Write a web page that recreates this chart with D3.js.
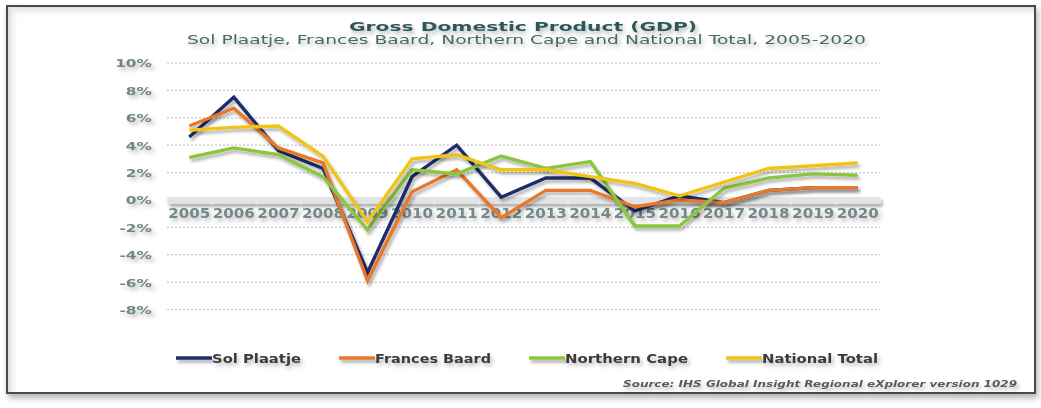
<!DOCTYPE html>
<html>
<head>
<meta charset="utf-8">
<script src="https://cdn.jsdelivr.net/npm/d3@7"></script>
<style>
  html, body { margin: 0; padding: 0; background: #fff; }
  svg { display: block; font-family: "DejaVu Sans", Verdana, sans-serif; }
</style>
</head>
<body>
<svg id="chart"></svg>
<script>
// GDP growth, %
var years = ["2005","2006","2007","2008","2009","2010","2011","2012","2013","2014","2015","2016","2017","2018","2019","2020"];
var solPlaatje    = [4.6, 7.5, 3.6, 2.3, -5.3, 1.7, 4.0, 0.2, 1.6, 1.6, -0.8, 0.3, -0.2, 0.7, 0.9, 0.9];
var francesBaard  = [5.4, 6.7, 3.8, 2.7, -5.9, 0.6, 2.2, -1.3, 0.7, 0.7, -0.5, 0.0, -0.2, 0.7, 0.9, 0.9];
var northernCape  = [3.1, 3.8, 3.3, 1.7, -2.2, 2.2, 1.9, 3.2, 2.3, 2.8, -1.9, -1.9, 0.85, 1.6, 1.9, 1.8];
var nationalTotal = [5.1, 5.3, 5.4, 3.2, -1.6, 3.0, 3.3, 2.2, 2.2, 1.7, 1.2, 0.3, 1.3, 2.3, 2.5, 2.7];
var seriesNames  = ["Sol Plaatje","Frances Baard","Northern Cape","National Total"];
var seriesColors = ["#1f2d6b","#e8782c","#8cc63f","#f2c318"];
var yTicks = [-8,-6,-4,-2,0,2,4,6,8,10];

var W = 1041, H = 408;
var plotLeft = 167, plotRight = 880, plotTop = 63, plotBottom = 309.5;

var svg = d3.select("#chart").attr("width", W).attr("height", H);
var defs = svg.append("defs");

// blurred drop shadows, like the picture (user space so flat lines keep them)
function shadow(id, dx, dy, sd, op){
  defs.append("filter").attr("id", id).attr("filterUnits","userSpaceOnUse")
    .attr("x",-100).attr("y",-400).attr("width",1300).attr("height",1000)
    .append("feDropShadow").attr("dx",dx).attr("dy",dy).attr("stdDeviation",sd)
    .attr("flood-color","#000").attr("flood-opacity",op);
}
shadow("shadow", 2, 3, 1.8, 0.3);
shadow("tshadow", 2, 3, 2, 0.28);
shadow("fshadow", 2, 4, 3, 0.3);

var gTop = defs.append("linearGradient").attr("id","gTop").attr("x1",0).attr("y1",0).attr("x2",0).attr("y2",1);
gTop.append("stop").attr("offset","0%").attr("stop-color","#dcdcdc");
gTop.append("stop").attr("offset","100%").attr("stop-color","#fff").attr("stop-opacity",0);
var gLeft = defs.append("linearGradient").attr("id","gLeft").attr("x1",0).attr("y1",0).attr("x2",1).attr("y2",0);
gLeft.append("stop").attr("offset","0%").attr("stop-color","#dcdcdc");
gLeft.append("stop").attr("offset","100%").attr("stop-color","#fff").attr("stop-opacity",0);

// frame
svg.append("rect").attr("x",7).attr("y",6).attr("width",1028).attr("height",387)
  .attr("fill","#fff").attr("stroke","#4a4a4a").attr("stroke-width",2).attr("filter","url(#fshadow)");
svg.append("rect").attr("x",8).attr("y",7).attr("width",1026).attr("height",12).attr("fill","url(#gTop)");
svg.append("rect").attr("x",8).attr("y",7).attr("width",12).attr("height",385).attr("fill","url(#gLeft)");

var x = d3.scaleBand().domain(years).range([plotLeft, plotRight]);
var y = d3.scaleLinear().domain([-8, 10]).range([plotBottom, plotTop]);
function cx(d){ return x(d) + x.bandwidth()/2; }

// titles
svg.append("text").attr("x",523).attr("y",31).attr("text-anchor","middle")
  .attr("font-size",12.5).attr("font-weight","bold").attr("fill","#2e5858")
  .attr("textLength",348).attr("lengthAdjust","spacingAndGlyphs").attr("filter","url(#tshadow)")
  .text("Gross Domestic Product (GDP)");
svg.append("text").attr("x",526.5).attr("y",44).attr("text-anchor","middle")
  .attr("font-size",12.5).attr("fill","#4a6868")
  .attr("textLength",679).attr("lengthAdjust","spacingAndGlyphs").attr("filter","url(#tshadow)")
  .text("Sol Plaatje, Frances Baard, Northern Cape and National Total, 2005-2020");

// grid
svg.append("g").selectAll("line").data(yTicks.filter(function(d){ return d !== 0; })).enter()
  .append("line")
  .attr("x1",plotLeft).attr("x2",plotRight)
  .attr("y1",function(d){ return y(d); }).attr("y2",function(d){ return y(d); })
  .attr("stroke","#c4c4c4").attr("stroke-width",1.2).attr("stroke-dasharray","2,2");

// y axis
var yAxis = svg.append("g").attr("transform","translate(152,0)")
  .call(d3.axisLeft(y).tickValues(yTicks).tickSize(0).tickFormat(function(d){ return d + "%"; }));
yAxis.select(".domain").remove();
yAxis.selectAll("text")
  .attr("x",0).attr("dy","0.36em")
  .attr("transform","scale(1.4,1)")
  .attr("font-size",11).attr("font-weight","bold").attr("font-family","DejaVu Sans")
  .attr("fill","#6d8686").attr("filter","url(#tshadow)");

// x axis band at 0%
var xAxis = svg.append("g").attr("transform","translate(0," + y(0) + ")")
  .call(d3.axisBottom(x).tickSize(0));
xAxis.select(".domain").attr("stroke","#e2e4e4").attr("stroke-width",7).attr("filter","url(#shadow)");
xAxis.selectAll(".tick line").remove();
xAxis.selectAll(".tick").append("line")
  .attr("x1",-x.bandwidth()/2).attr("x2",-x.bandwidth()/2).attr("y1",-5).attr("y2",5)
  .attr("stroke","#eceeee").attr("stroke-width",1);
xAxis.selectAll("text")
  .attr("y",18).attr("dy",0)
  .attr("transform","scale(1.12,1)")
  .attr("font-size",13.5).attr("font-weight","bold").attr("font-family","DejaVu Sans")
  .attr("fill","#738989").attr("filter","url(#tshadow)");

// lines
var allSeries = [solPlaatje, francesBaard, northernCape, nationalTotal];
var line = d3.line().x(function(d,i){ return cx(years[i]); }).y(function(d){ return y(d); });
svg.append("g").selectAll("path").data(allSeries).enter()
  .append("path")
  .attr("d", line)
  .attr("fill","none")
  .attr("stroke",function(d,i){ return seriesColors[i]; })
  .attr("stroke-width",3.4)
  .attr("stroke-linejoin","miter")
  .attr("filter","url(#shadow)");

// legend
var legendWidths = [89, 116, 123, 116];
var lgX = 176, lgLine = 36, lgGap = 38;
var lg = svg.append("g");
seriesNames.forEach(function(name, i){
  var g = lg.append("g").attr("transform","translate(" + lgX + ",0)");
  g.append("line").attr("x1",0).attr("x2",lgLine).attr("y1",358).attr("y2",358)
    .attr("stroke",seriesColors[i]).attr("stroke-width",3.4).attr("filter","url(#shadow)");
  g.append("text").attr("x",lgLine).attr("y",362.5)
    .attr("font-size",12.5).attr("font-weight","bold").attr("fill","#3a3a3a")
    .attr("textLength",legendWidths[i]).attr("lengthAdjust","spacingAndGlyphs")
    .attr("filter","url(#tshadow)")
    .text(name);
  lgX += lgLine + legendWidths[i] + lgGap;
});

// source
svg.append("text").attr("x",623).attr("y",387)
  .attr("font-size",8.5).attr("font-style","italic").attr("font-weight","bold").attr("fill","#5a5a5a")
  .attr("textLength",394).attr("lengthAdjust","spacingAndGlyphs").attr("filter","url(#tshadow)")
  .text("Source: IHS Global Insight Regional eXplorer version 1029");
</script>
</body>
</html>
